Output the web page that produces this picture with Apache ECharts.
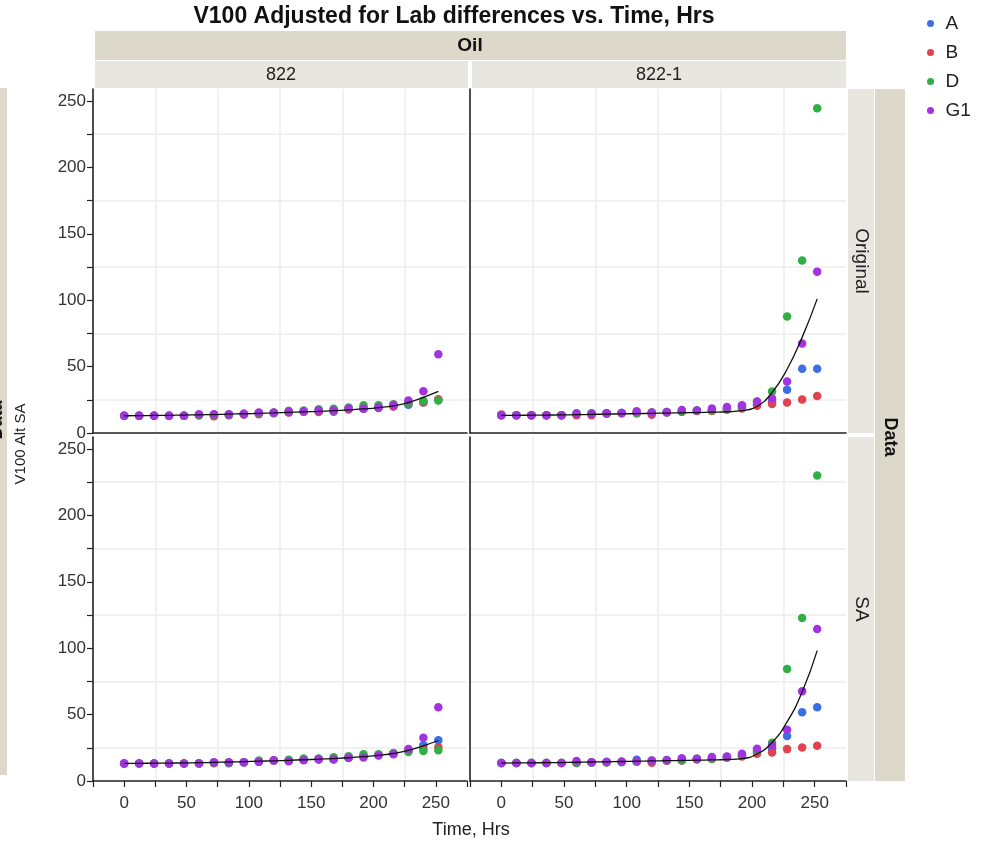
<!DOCTYPE html>
<html><head><meta charset="utf-8">
<script src="https://cdn.jsdelivr.net/npm/echarts@6/dist/echarts.min.js"></script>
<style>html,body{margin:0;padding:0;background:#fff}#c{width:984px;height:842px}</style>
</head><body><div id="c"></div>
<script>
const times = [0,12,24,36,48,60,72,84,96,108,120,132,144,156,168,180,192,204,216,228,240,252];
const labs = ['A','B','D','G1'];
const oils = ['822','822-1'];
const dataTypes = ['Original','SA'];
const xTickLabels = [0,50,100,150,200,250];
const yTickLabels = [0,50,100,150,200,250];

// Oil 822, Original
const orig822_A  = [13,13,13,13,13,13.3,13.6,13.3,14.0,14.8,14.8,15.6,16.0,16.2,16.0,17.8,18.3,18.8,20.2,21.2,23.0,24.8];
const orig822_B  = [13,13,13,13,13,13.3,12.6,13.5,14.0,14.2,15.0,15.5,16.0,15.8,17.0,17.8,18.5,19.0,20.0,22.0,23.2,25.5];
const orig822_D  = [13,13,13,13,13,13.6,13.8,14.0,14.5,15.0,15.5,16.7,17.0,17.8,18.2,19.2,20.8,20.8,21.7,22.5,24.3,24.5];
const orig822_G1 = [13,13,13,13,13,14.2,14.2,14.2,14.5,15.4,15.4,16.0,16.2,17.0,17.2,18.5,18.5,19.2,21.0,24.5,31.5,59.3];
const fitOrig822 = [13.0,13.1,13.2,13.3,13.5,13.7,13.9,14.2,14.5,14.8,15.1,15.5,15.9,16.3,16.8,17.4,18.1,19.1,20.5,22.9,26.8,31.3];

// Oil 822, SA
const sa822_A  = [13.2,13.2,13.2,13.2,13.2,13.2,13.8,13.4,14.0,14.6,15.2,15.2,16.0,16.2,16.2,17.5,18.5,19.5,20.5,23.0,26.9,30.6];
const sa822_B  = [13.2,13.2,13.2,13.2,13.2,13.2,13.4,14.0,14.2,14.8,15.2,15.5,16.0,16.5,17.0,17.8,18.8,19.5,20.8,22.5,24.0,25.5];
const sa822_D  = [13.2,13.2,13.2,13.2,13.2,13.2,14.0,14.0,14.2,15.4,15.7,16.0,16.9,16.9,17.8,18.7,20.1,20.1,21.1,21.9,22.6,23.1];
const sa822_G1 = [13.2,13.2,13.2,13.2,13.2,13.4,14.2,14.2,14.2,14.4,15.7,14.9,15.7,16.4,16.4,17.4,17.7,19.2,20.1,24.1,32.6,55.5];
const fitSa822 = [13.2,13.3,13.4,13.5,13.6,13.8,14.0,14.3,14.6,14.9,15.2,15.6,16.0,16.4,16.9,17.5,18.3,19.3,20.7,23.0,26.5,30.5];

// Oil 822-1, Original
const orig8221_A  = [13.3,13.3,13.3,13.3,13.3,14.5,14.5,14.8,15.0,15.0,15.3,15.5,16.0,16.8,17.0,18.0,19.5,21.5,23.5,32.5,48.3,48.3];
const orig8221_B  = [14.0,13.3,13.3,13.3,13.3,13.3,13.3,14.5,14.8,14.8,13.8,15.5,16.0,16.5,16.5,17.5,18.5,20.5,21.8,23.0,25.3,27.8];
const orig8221_D  = [13.3,13.3,13.3,13.3,13.3,14.8,14.8,14.8,15.0,15.0,15.5,15.8,16.3,17.0,17.0,18.3,20.0,23.8,31.3,87.8,129.8,244.5];
const orig8221_G1 = [13.3,13.3,13.3,13.3,13.3,14.5,14.5,14.8,15.0,16.3,15.5,15.8,17.3,17.0,18.5,19.5,20.8,23.5,26.0,38.8,67.3,121.5];
const fitOrig8221 = [13.2,13.3,13.4,13.5,13.6,13.8,14.0,14.2,14.4,14.6,14.8,15.0,15.2,15.4,15.7,16.0,16.8,20.0,30.5,48.0,72.0,101.0];

// Oil 822-1, SA
const sa8221_A  = [13.5,13.5,13.5,13.5,13.5,13.8,14.0,14.2,14.5,16.0,15.0,15.5,16.0,16.5,17.0,17.8,19.2,21.8,24.0,33.8,51.8,55.6];
const sa8221_B  = [13.5,13.5,13.5,13.5,13.5,13.5,14.0,14.2,14.5,14.5,13.8,15.2,15.5,16.2,16.5,17.5,18.5,20.5,21.5,24.0,25.2,26.5];
const sa8221_D  = [13.5,13.5,13.5,13.5,13.5,13.5,14.2,14.2,14.2,14.5,15.5,15.5,15.5,16.7,16.7,18.0,19.7,23.0,28.8,84.4,122.7,230.0];
const sa8221_G1 = [13.5,13.5,13.5,13.5,13.5,15.0,14.2,14.5,14.5,15.0,15.5,15.8,17.2,16.7,18.0,18.5,20.5,24.2,26.8,38.5,67.6,114.5];
const fitSa8221 = [13.5,13.6,13.7,13.8,13.9,14.1,14.3,14.5,14.7,14.9,15.1,15.3,15.5,15.7,15.9,16.2,16.8,20.3,29.0,44.5,67.0,98.2];

const labColors = {A:'#3b6fe2', B:'#e0434f', D:'#2fb044', G1:'#a233e0'};
const FONT = 'Arial, "Liberation Sans", sans-serif';

// panel order: TL, TR, BL, BR
const panels = [
  {labs:{A:orig822_A,B:orig822_B,D:orig822_D,G1:orig822_G1}, fit:fitOrig822, left:93, top:89, yLabels:true, xLabels:false},
  {labs:{A:orig8221_A,B:orig8221_B,D:orig8221_D,G1:orig8221_G1}, fit:fitOrig8221, left:470, top:89, yLabels:false, xLabels:false},
  {labs:{A:sa822_A,B:sa822_B,D:sa822_D,G1:sa822_G1}, fit:fitSa822, left:93, top:437, yLabels:true, xLabels:true},
  {labs:{A:sa8221_A,B:sa8221_B,D:sa8221_D,G1:sa8221_G1}, fit:fitSa8221, left:470, top:437, yLabels:false, xLabels:true}
];

const grid=[], xAxis=[], yAxis=[], series=[];
const xMinorTicks=[]; for(let v=-25; v<=275; v+=25) xMinorTicks.push(v);
const xGridVals=[]; for(let v=25; v<=250; v+=50) xGridVals.push(v);
const yTicks=[]; for(let v=0; v<=250; v+=25) yTicks.push(v);
const yGridVals=[]; for(let v=25; v<=250; v+=50) yGridVals.push(v);

panels.forEach((p,i)=>{
  grid.push({left:p.left, top:p.top, width:(i%2===0?374:376), height:344, containLabel:false});
  const axLine = {show:true, onZero:false, lineStyle:{color:'#222', width:1.6}};
  xAxis.push({gridIndex:i, type:'value', min:-25, max:275, position:'bottom',
    axisLine:axLine,
    axisTick:{show:p.xLabels, length:6, customValues:xMinorTicks, lineStyle:{color:'#222', width:1.2}},
    axisLabel:{show:p.xLabels, customValues:xTickLabels, fontSize:17, color:'#333', margin:14, fontFamily:FONT},
    splitLine:{show:false}});
  xAxis.push({gridIndex:i, type:'value', min:-25, max:275, position:'top',
    axisLine:{show:false}, axisTick:{show:false, customValues:xGridVals}, axisLabel:{show:false},
    splitLine:{show:true, lineStyle:{color:'#ececec', width:1.5}}});
  yAxis.push({gridIndex:i, type:'value', min:0, max:259, position:'left',
    axisLine:axLine,
    axisTick:{show:p.yLabels, length:6, customValues:yTicks, lineStyle:{color:'#222', width:1.2}},
    axisLabel:{show:p.yLabels, customValues:yTickLabels, fontSize:17, color:'#333', margin:7, fontFamily:FONT},
    splitLine:{show:false}});
  yAxis.push({gridIndex:i, type:'value', min:0, max:259, position:'right',
    axisLine:{show:false}, axisTick:{show:false, customValues:yGridVals}, axisLabel:{show:false},
    splitLine:{show:true, lineStyle:{color:'#ececec', width:1.5}}});
  labs.forEach(lab=>{
    series.push({type:'scatter', name:lab, xAxisIndex:2*i, yAxisIndex:2*i, symbolSize:8.5,
      itemStyle:{color:labColors[lab], opacity:1},
      data: times.map((t,k)=>[t, p.labs[lab][k]]), z:2});
  });
  series.push({type:'line', name:'fit', xAxisIndex:2*i, yAxisIndex:2*i, smooth:0.5,
    showSymbol:false, symbol:'none', lineStyle:{color:'#111', width:1.3}, z:5,
    data: times.map((t,k)=>[t, p.fit[k]])});
});

const strip1='#dcd9cb', strip2='#e8e7df';
const graphic = [
  {type:'text', x:454, y:17, style:{text:'V100 Adjusted for Lab differences vs. Time, Hrs', font:'bold 23px '+FONT, fill:'#111', align:'center', verticalAlign:'middle'}},
  {type:'rect', shape:{x:95, y:31, width:751, height:29}, style:{fill:strip1}},
  {type:'text', x:470, y:46, style:{text:'Oil', font:'bold 19px '+FONT, fill:'#111', align:'center', verticalAlign:'middle'}},
  {type:'rect', shape:{x:95, y:61, width:373, height:27}, style:{fill:strip2}},
  {type:'rect', shape:{x:472, y:61, width:374, height:27}, style:{fill:strip2}},
  {type:'text', x:281, y:75, style:{text:oils[0], font:'18px '+FONT, fill:'#222', align:'center', verticalAlign:'middle'}},
  {type:'text', x:659, y:75, style:{text:oils[1], font:'18px '+FONT, fill:'#222', align:'center', verticalAlign:'middle'}},
  {type:'rect', shape:{x:848, y:89, width:26, height:344}, style:{fill:strip2}},
  {type:'rect', shape:{x:848, y:437, width:26, height:344}, style:{fill:strip2}},
  {type:'rect', shape:{x:875, y:89, width:30, height:692}, style:{fill:strip1}},
  {type:'text', x:861, y:261, rotation:-Math.PI/2, style:{text:dataTypes[0], font:'19px '+FONT, fill:'#222', align:'center', verticalAlign:'middle'}},
  {type:'text', x:861, y:609, rotation:-Math.PI/2, style:{text:dataTypes[1], font:'19px '+FONT, fill:'#222', align:'center', verticalAlign:'middle'}},
  {type:'text', x:890, y:437, rotation:-Math.PI/2, style:{text:'Data', font:'bold 18px '+FONT, fill:'#111', align:'center', verticalAlign:'middle'}},
  {type:'rect', shape:{x:0, y:88, width:7, height:687}, style:{fill:strip1}},
  {type:'text', x:-3, y:420, rotation:Math.PI/2, style:{text:'Data', font:'bold 18px '+FONT, fill:'#111', align:'center', verticalAlign:'middle'}},
  {type:'text', x:21, y:444, rotation:Math.PI/2, style:{text:'V100 Alt SA', font:'15px '+FONT, fill:'#222', align:'center', verticalAlign:'middle'}},
  {type:'text', x:471, y:830, style:{text:'Time, Hrs', font:'18px '+FONT, fill:'#222', align:'center', verticalAlign:'middle'}}
];

const chart = echarts.init(document.getElementById('c'), null, {renderer:'canvas'});
chart.setOption({
  animation:false,
  backgroundColor:'#fff',
  legend:{data:labs, orient:'vertical', left:922, top:9, itemWidth:20, itemHeight:7, itemGap:10, icon:'circle',
    textStyle:{fontSize:19, color:'#222', fontFamily:FONT}},
  grid, xAxis, yAxis, series, graphic
});
</script></body></html>
